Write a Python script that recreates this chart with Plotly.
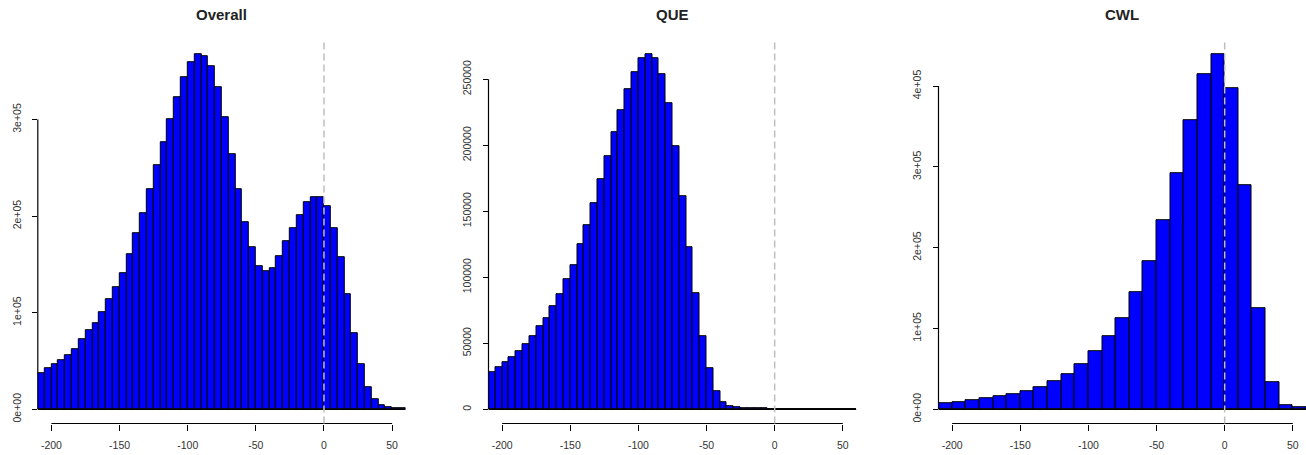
import plotly.graph_objects as go

# ---------------- data ----------------
titles = ["Overall", "QUE", "CWL"]

bin_start = -210
overall_binwidth = 5
que_binwidth = 5
cwl_binwidth = 10

overall_counts = [
    37900, 42400, 46500, 51000, 56200, 62700, 72700, 81700, 88900, 100300,
    113800, 126900, 141300, 160300, 182400, 202700, 227500, 252300, 276800, 300200,
    323700, 344000, 359900, 367500, 366100, 355700, 333700, 302000, 264000, 227500,
    194100, 167500, 148600, 143100, 145800, 158900, 173700, 187900, 201000, 214400,
    219900, 219900, 209900, 187900, 157500, 119600, 79300, 46500, 23400, 10300,
    4500, 2100, 1400, 1000,
]

que_counts = [
    27800, 32100, 35400, 39600, 43900, 49200, 55600, 63100, 69200, 78300,
    87400, 98500, 109100, 125000, 139600, 156100, 174200, 191400, 209600, 226500,
    242400, 255300, 265900, 268900, 265900, 254000, 231600, 199700, 161100, 123000,
    87600, 55600, 31100, 13900, 5300, 2000, 1500, 1200, 1000, 900,
    800, 0, 0, 0, 0, 0, 0, 0, 0, 0,
    0, 0, 0, 0,
]

cwl_counts = [
    7000, 8700, 10700, 14000, 15700, 19000, 22700, 27600, 35000, 43700,
    55600, 71300, 90600, 112900, 144600, 182900, 233600, 292500, 357200, 414500,
    439200, 397200, 277300, 125300, 33000, 4900, 2500,
]

x_tickvals = [-200, -150, -100, -50, 0, 50]
x_ticktext = ["-200", "-150", "-100", "-50", "0", "50"]

overall_ytickvals = [0, 100000, 200000, 300000]
overall_yticktext = ["0e+00", "1e+05", "2e+05", "3e+05"]
que_ytickvals = [0, 50000, 100000, 150000, 200000, 250000]
que_yticktext = ["0", "50000", "100000", "150000", "200000", "250000"]
cwl_ytickvals = [0, 100000, 200000, 300000, 400000]
cwl_yticktext = ["0e+00", "1e+05", "2e+05", "3e+05", "4e+05"]

# ---------------- layout geometry ----------------
W, H = 1306, 455
ppu = 1.3627               # pixels per x unit
x_lo, x_hi = -210, 60
panel_left_px = [37.8, 488.5, 938.5]
plot_top_px, plot_bot_px = 40.2, 423.5

FONT = "Liberation Sans, Arial, sans-serif"
TICKCOL = "#333333"

panels = [
    (overall_counts, overall_binwidth, overall_ytickvals, overall_yticktext),
    (que_counts, que_binwidth, que_ytickvals, que_yticktext),
    (cwl_counts, cwl_binwidth, cwl_ytickvals, cwl_yticktext),
]

fig = go.Figure()
layout = dict(
    width=W, height=H,
    margin=dict(l=0, r=0, t=0, b=0),
    paper_bgcolor="white", plot_bgcolor="white",
    showlegend=False, bargap=0,
    shapes=[], annotations=[],
)

for i, (counts, bw, ytv, ytt) in enumerate(panels):
    n = i + 1
    xa = "x" if n == 1 else f"x{n}"
    ya = "y" if n == 1 else f"y{n}"
    centers = [bin_start + bw * k + bw / 2 for k in range(len(counts))]
    fig.add_trace(go.Bar(
        x=centers, y=counts, width=[bw] * len(counts),
        marker=dict(color="#0000FF", line=dict(color="black", width=1)),
        xaxis=xa, yaxis=ya, hoverinfo="x+y",
    ))

    L = panel_left_px[i]
    R = min(L + (x_hi - x_lo) * ppu, W)
    xr_hi = x_lo + (R - L) / ppu
    ymax = max(counts)

    layout["xaxis" if n == 1 else f"xaxis{n}"] = dict(
        domain=[L / W, R / W], range=[x_lo, xr_hi], anchor=ya,
        showgrid=False, zeroline=False, showline=False,
        tickmode="array", tickvals=x_tickvals, ticktext=x_ticktext,
        ticks="outside", ticklen=6, tickwidth=1, tickcolor="black",
        ticklabelstandoff=6,
        tickfont=dict(family=FONT, size=10.5, color=TICKCOL),
        fixedrange=True,
    )
    layout["yaxis" if n == 1 else f"yaxis{n}"] = dict(
        domain=[1 - plot_bot_px / H, 1 - plot_top_px / H],
        range=[-0.04 * ymax, 1.04 * ymax], anchor=xa,
        showgrid=False, zeroline=False, showline=False,
        tickmode="array", tickvals=ytv, ticktext=ytt, tickangle=-90,
        ticks="outside", ticklen=5, tickwidth=1, tickcolor="black",
        ticklabelstandoff=7,
        tickfont=dict(family=FONT, size=10.5, color=TICKCOL),
        fixedrange=True,
    )

    # R-style axis lines spanning only first..last tick
    layout["shapes"].append(dict(
        type="line", xref=xa, yref=f"{ya} domain",
        x0=x_tickvals[0], x1=x_tickvals[-1], y0=0, y1=0,
        line=dict(color="black", width=1.2), layer="above"))
    layout["shapes"].append(dict(
        type="line", xref=f"{xa} domain", yref=ya,
        x0=0, x1=0, y0=ytv[0], y1=ytv[-1],
        line=dict(color="black", width=1.2), layer="above"))
    # bar baseline (zero-height bars in R show as a flat line)
    layout["shapes"].append(dict(
        type="line", xref=xa, yref=ya,
        x0=x_lo, x1=x_hi, y0=0, y1=0,
        line=dict(color="black", width=1.2), layer="above"))
    # dashed reference line at 0
    layout["shapes"].append(dict(
        type="line", xref=xa, yref=f"{ya} domain",
        x0=0, x1=0, y0=0, y1=1,
        line=dict(color="#BEBEBE", width=1.5, dash="7px,4px"), layer="above"))
    # panel title
    layout["annotations"].append(dict(
        text=f"<b>{titles[i]}</b>", xref=f"{xa} domain", x=0.5,
        yref="paper", y=1 - 14 / H, xanchor="center", yanchor="middle",
        showarrow=False, font=dict(family=FONT, size=15, color="#222222")))

fig.update_layout(**layout)
fig.write_html("out.html")
